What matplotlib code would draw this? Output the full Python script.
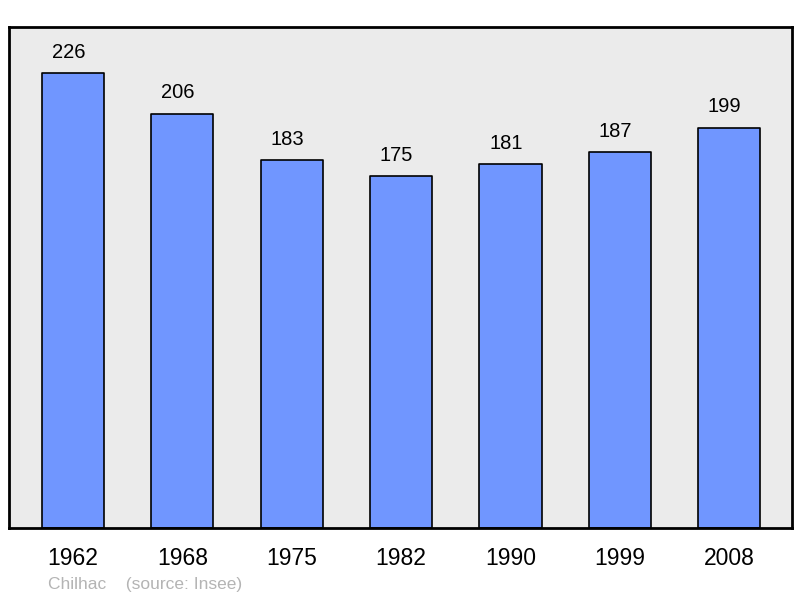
import matplotlib
matplotlib.use("Agg")
import matplotlib.pyplot as plt

years = ["1962", "1968", "1975", "1982", "1990", "1999", "2008"]
population = [226, 206, 183, 175, 181, 187, 199]

plt.rcParams['font.family'] = ['Liberation Sans', 'DejaVu Sans']

fig = plt.figure(figsize=(8, 5.98), dpi=100)
ax = fig.add_axes([9/800, 70/598, 783/800, 501/598])
ax.set_facecolor('#ebebeb')
x = list(range(len(years)))
bars = ax.bar(x, population, width=0.57, color='#7096ff', edgecolor='black',
              linewidth=1.2, zorder=2)
for b in bars:
    b.set_joinstyle('round')
for xi, v in zip(x, population):
    ax.annotate(str(v), (xi, v), xytext=(-3.2, 8), textcoords='offset points',
                ha='center', va='bottom', fontsize=14.5, color='black')
ax.set_xlim(-0.585, 6.575)
ax.set_ylim(0, 249)
ax.set_yticks([])
ax.set_xticks(x)
ax.set_xticklabels(years, fontsize=16.5)
ax.tick_params(axis='x', length=0, pad=13.5)
for s in ax.spines.values():
    s.set_linewidth(2)
    s.set_joinstyle('round')
fig.text(48/800, 1 - 584/598, "Chilhac    (source: Insee)", fontsize=12.5,
         color='#b4b4b4', ha='left', va='center')
fig.savefig("out.png", dpi=100)
